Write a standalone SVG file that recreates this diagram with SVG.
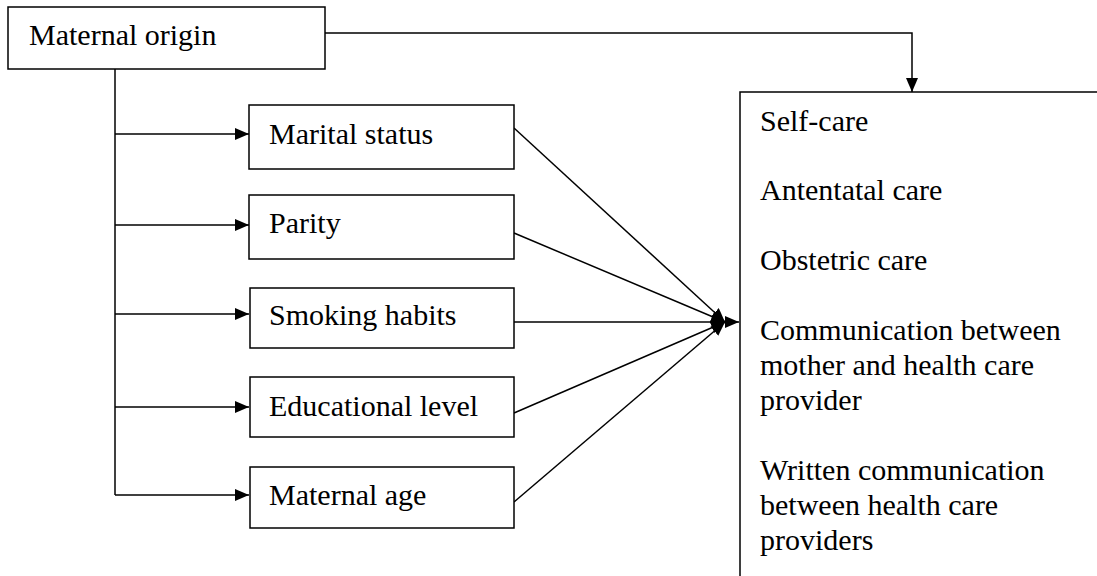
<svg xmlns="http://www.w3.org/2000/svg" width="1097" height="576" viewBox="0 0 1097 576">
<style>
.box{fill:#fff;stroke:#000;stroke-width:1.5}
.t{font-family:"Liberation Serif","Times New Roman",serif;font-size:30px;fill:#000}
.c{fill:none;stroke:#000;stroke-width:1.5}
</style>
<defs>
<marker id="ah" markerUnits="userSpaceOnUse" markerWidth="15" markerHeight="13" refX="14" refY="6" orient="auto">
<path d="M0,0 L14,6 L0,12 z" fill="#000"/>
</marker>
</defs>
<rect width="1097" height="576" fill="#fff"/>
<g id="connectors">
<polyline class="c" points="325,33 912,33 912,92" marker-end="url(#ah)"/>
<line class="c" x1="115" y1="69" x2="115" y2="495"/>
<line class="c" x1="115" y1="134" x2="249" y2="134" marker-end="url(#ah)"/>
<line class="c" x1="115" y1="225" x2="249" y2="225" marker-end="url(#ah)"/>
<line class="c" x1="115" y1="314" x2="249" y2="314" marker-end="url(#ah)"/>
<line class="c" x1="115" y1="407" x2="249" y2="407" marker-end="url(#ah)"/>
<line class="c" x1="115" y1="495" x2="249" y2="495" marker-end="url(#ah)"/>
<line class="c" x1="514" y1="128" x2="725" y2="322" marker-end="url(#ah)"/>
<line class="c" x1="514" y1="233" x2="725" y2="322" marker-end="url(#ah)"/>
<line class="c" x1="514" y1="322" x2="739" y2="322" marker-end="url(#ah)"/>
<line class="c" x1="514" y1="413" x2="725" y2="322" marker-end="url(#ah)"/>
<line class="c" x1="514" y1="502" x2="725" y2="322" marker-end="url(#ah)"/>
</g>
<g id="maternal-origin">
<rect class="box" x="8" y="7" width="317" height="62"/>
<text class="t" x="29" y="45">Maternal origin</text>
</g>
<g id="marital-status">
<rect class="box" x="249" y="105" width="265" height="64"/>
<text class="t" x="269" y="144">Marital status</text>
</g>
<g id="parity">
<rect class="box" x="249" y="195" width="265" height="64"/>
<text class="t" x="269" y="233">Parity</text>
</g>
<g id="smoking-habits">
<rect class="box" x="250" y="288" width="264" height="60"/>
<text class="t" x="269" y="325">Smoking habits</text>
</g>
<g id="educational-level">
<rect class="box" x="250" y="377" width="264" height="60"/>
<text class="t" x="269" y="416">Educational level</text>
</g>
<g id="maternal-age">
<rect class="box" x="250" y="467" width="264" height="61"/>
<text class="t" x="269" y="505">Maternal age</text>
</g>
<g id="care-outcomes">
<rect class="box" x="740" y="92" width="400" height="520"/>
<text class="t" x="760" y="131">Self-care</text>
<text class="t" x="760" y="200">Antentatal care</text>
<text class="t" x="760" y="270">Obstetric care</text>
<text class="t" x="760" y="340">Communication between</text>
<text class="t" x="760" y="375">mother and health care</text>
<text class="t" x="760" y="410">provider</text>
<text class="t" x="760" y="480">Written communication</text>
<text class="t" x="760" y="515">between health care</text>
<text class="t" x="760" y="550">providers</text>
</g>
</svg>
